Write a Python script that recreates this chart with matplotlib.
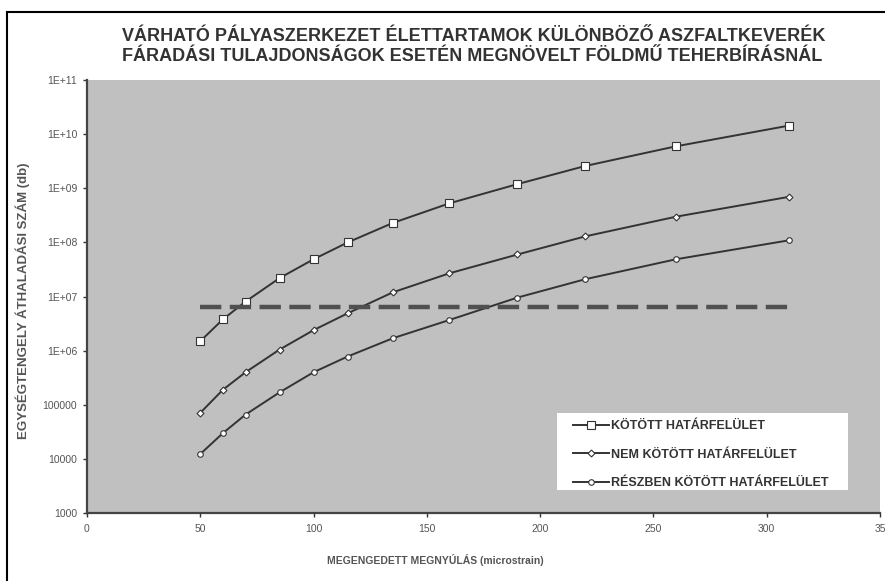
import matplotlib
matplotlib.use("Agg")
import matplotlib.pyplot as plt
from matplotlib.patches import Rectangle

plt.rcParams['font.family'] = ['Liberation Sans', 'DejaVu Sans']

# megengedett megnyulas (microstrain)
strain = [50, 60, 70, 85, 100, 115, 135, 160, 190, 220, 260, 310]

kotott = [1.5e6, 3.8e6, 8.1e6, 2.2e7, 4.9e7, 1.0e8, 2.3e8, 5.3e8,
          1.2e9, 2.6e9, 6.0e9, 1.45e10]
nem_kotott = [7.1e4, 1.9e5, 4.0e5, 1.05e6, 2.4e6, 4.9e6, 1.2e7, 2.7e7,
              6.0e7, 1.3e8, 3.0e8, 7.0e8]
reszben = [1.23e4, 3.0e4, 6.6e4, 1.7e5, 4.0e5, 7.8e5, 1.7e6, 3.7e6,
           9.6e6, 2.1e7, 4.9e7, 1.1e8]

# kovetelmeny szint (szaggatott vonal)
limit_x = [50, 310]
limit_y = [6.3e6, 6.3e6]

labels = ['KÖTÖTT HATÁRFELÜLET', 'NEM KÖTÖTT HATÁRFELÜLET',
          'RÉSZBEN KÖTÖTT HATÁRFELÜLET']

y_ticks = [1e3, 1e4, 1e5, 1e6, 1e7, 1e8, 1e9, 1e10, 1e11]
y_ticklabels = ['1000', '10000', '100000', '1E+06', '1E+07', '1E+08',
                '1E+09', '1E+10', '1E+11']
x_ticks = [0, 50, 100, 150, 200, 250, 300, 350]
x_ticklabels = ['0', '50', '100', '150', '200', '250', '300', '35']

txt = '#333333'

fig = plt.figure(figsize=(8.85, 5.81), dpi=100)
# keret a diagram korul
fig.patches.append(Rectangle((7 / 885, -0.05), 1.2, 1.05 - 12 / 581,
                             transform=fig.transFigure, fill=False,
                             edgecolor='black', linewidth=1.5))

ax = fig.add_axes([0.0983, 0.117, 0.896, 0.745])
ax.set_facecolor('#c0c0c0')

line_kw = dict(color='#333333', linewidth=1.4, markerfacecolor='white',
               markeredgecolor='#333333', markeredgewidth=0.8)
ax.plot(strain, kotott, marker='s', markersize=5.5, label=labels[0], **line_kw)
ax.plot(strain, nem_kotott, marker='D', markersize=3.5, label=labels[1], **line_kw)
ax.plot(strain, reszben, marker='o', markersize=4, label=labels[2], **line_kw)
ax.plot(limit_x, limit_y, color='#505050', linewidth=3.2,
        dashes=(4.8, 1.9), solid_capstyle='butt')

ax.set_yscale('log')
ax.set_ylim(1e3, 1e11)
ax.set_xlim(0, 350)
ax.set_yticks(y_ticks)
ax.set_yticklabels(y_ticklabels)
ax.minorticks_off()
ax.set_xticks(x_ticks)
ax.set_xticklabels(x_ticklabels)
ax.tick_params(labelsize=7.5, colors='#333333', length=3, width=1,
               labelcolor='#555555', pad=4)
ax.tick_params(axis='x', pad=5)

for s in ['top', 'right']:
    ax.spines[s].set_visible(False)
for s in ['left', 'bottom']:
    ax.spines[s].set_color('#444444')
    ax.spines[s].set_linewidth(1.6)

ax.set_xlabel('MEGENGEDETT MEGNYÚLÁS (microstrain)', fontsize=7.5,
              fontweight='bold', color='#555555')
ax.xaxis.set_label_coords(0.439, -0.095)
ax.set_ylabel('EGYSÉGTENGELY ÁTHALADÁSI SZÁM (db)', fontsize=9.5,
              fontweight='bold', color='#555555')
ax.yaxis.set_label_coords(-0.072, 0.49)

fig.text(0.535, 0.938, 'VÁRHATÓ PÁLYASZERKEZET ÉLETTARTAMOK KÜLÖNBÖZŐ ASZFALTKEVERÉK',
         ha='center', va='center', fontsize=13, fontweight='bold', color=txt)
fig.text(0.533, 0.902, 'FÁRADÁSI TULAJDONSÁGOK ESETÉN MEGNÖVELT FÖLDMŰ TEHERBÍRÁSNÁL',
         ha='center', va='center', fontsize=13, fontweight='bold', color=txt)

# feher jelmagyarazat doboz
ax.add_patch(Rectangle((0.593, 0.053), 0.367, 0.178, transform=ax.transAxes,
                       facecolor='white', edgecolor='none', zorder=4))
leg = ax.legend(loc='upper left', bbox_to_anchor=(0.613, 0.214),
                frameon=False, handlelength=2.9, handletextpad=0.15,
                labelspacing=1.3, borderpad=0, borderaxespad=0,
                prop={'weight': 'bold', 'size': 9})
leg.set_zorder(5)
for t in leg.get_texts():
    t.set_color('#333333')

fig.savefig('out.png', dpi=100)
